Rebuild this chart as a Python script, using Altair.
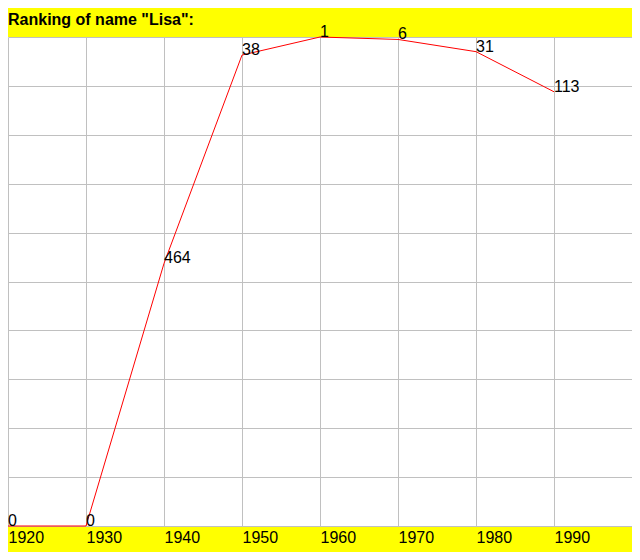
import altair as alt
import pandas as pd

years = [1920, 1930, 1940, 1950, 1960, 1970, 1980, 1990]
ranks = [0, 0, 464, 38, 1, 6, 31, 113]
unranked_pos = 1001

df = pd.DataFrame({
    "year": years,
    "rank": ranks,
    "pos": [r if r > 0 else unranked_pos for r in ranks],
    "label": [str(r) for r in ranks],
})

FONT = "Liberation Sans"

x = alt.X("year:Q",
          scale=alt.Scale(domain=[1920, 2000], nice=False, zero=False),
          axis=alt.Axis(values=list(range(1920, 2000, 10)), format="d", title=None,
                        grid=True, gridColor="#c0c0c0", gridWidth=1,
                        domain=False, ticks=False, labelAlign="left",
                        labelBaseline="top", labelPadding=3, labelFontSize=16,
                        labelFont=FONT, labelColor="black", labelFlush=False,
                        labelOverlap=False))
y = alt.Y("pos:Q",
          scale=alt.Scale(domain=[1, 1001], reverse=True, nice=False, zero=False),
          axis=alt.Axis(values=list(range(1, 1002, 100)), title=None, labels=False,
                        grid=True, gridColor="#c0c0c0", gridWidth=1,
                        domain=False, ticks=False))

line = alt.Chart(df).mark_line(color="#ff0000", strokeWidth=1).encode(x=x, y=y)
text = alt.Chart(df).mark_text(align="left", baseline="alphabetic", fontSize=16,
                               font=FONT, color="black").encode(
    x=alt.X("year:Q"), y=alt.Y("pos:Q"), text="label:N")

chart = (line + text).properties(
    width=624, height=489,
    title=alt.TitleParams('Ranking of name "Lisa":', anchor="start", fontSize=16,
                          fontWeight="bold", font=FONT, color="black", offset=-4,
                          frame="group"),
    padding={"left": 0, "top": 29, "right": 0, "bottom": 26},
    autosize=alt.AutoSizeParams(type="none"),
).configure(background="#ffff00").configure_view(fill="white", strokeWidth=0)

chart.save("out.html", embed_options={"renderer": "svg", "actions": False})
